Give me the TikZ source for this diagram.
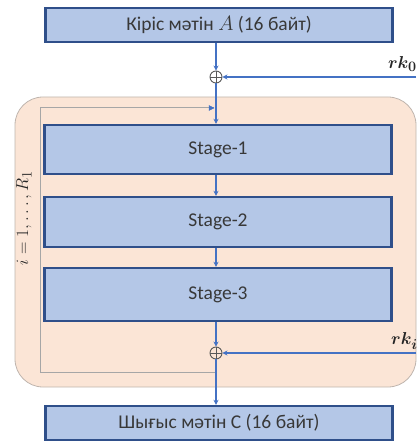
\documentclass[tikz,border=0pt]{standalone}
\usepackage{amsmath}
\usepackage{bm}
\usepackage{fontspec}
\setmainfont{Carlito}
\usetikzlibrary{arrows.meta}
\definecolor{boxfill}{HTML}{B4C7E7}
\definecolor{boxline}{HTML}{2F4F8A}
\definecolor{flow}{HTML}{4472C4}
\definecolor{roundbg}{HTML}{FBE5D6}
\definecolor{roundline}{HTML}{BFB5AE}
\definecolor{loopline}{HTML}{A6A6A6}
\definecolor{xorline}{HTML}{595959}
\tikzset{
  blockbox/.style={draw=boxline, line width=2.4pt, fill=boxfill, minimum width=347pt,
    inner sep=0pt, font=\fontsize{19.5}{22}\selectfont, text=black!78},
  xorop/.style={circle, draw=xorline, line width=0.9pt, minimum size=12pt, inner sep=0pt,
    path picture={\draw[xorline, line width=0.9pt]
      (path picture bounding box.north) -- (path picture bounding box.south)
      (path picture bounding box.west) -- (path picture bounding box.east);}},
  flowarrow/.style={draw=flow, line width=1.1pt, -{Stealth[length=5pt,width=5pt]}},
  keylabel/.style={font=\fontsize{19}{22}\selectfont, inner sep=0pt, text=black!85},
}
\begin{document}
\begin{tikzpicture}[x=1pt,y=-1pt]
  \useasboundingbox (0,0) rectangle (416,443);
  % shaded round region
  \path[fill=roundbg, draw=roundline, line width=0.8pt, rounded corners=28pt]
    (15,97) rectangle (416,387);
  % blocks
  \node[blockbox, minimum height=34pt] (in) at (219,25) {Кіріс мәтін $A$ (16 байт)};
  \node[blockbox, minimum height=49pt] (s1) at (218,149.5) {Stage-1};
  \node[blockbox, minimum height=50pt] (s2) at (218,222) {Stage-2};
  \node[blockbox, minimum height=53pt] (s3) at (218,294.5) {Stage-3};
  \node[blockbox, minimum height=34pt] (out) at (219,423) {Шығыс мәтін C (16 байт)};
  % xor operations
  \node[xorop] (x1) at (216,77) {};
  \node[xorop] (x2) at (216,353) {};
  % key inputs
  \coordinate (k0) at (416,77);
  \coordinate (ki) at (416,353);
  \node[keylabel, anchor=east] (rk0) at (417,64) {$\bm{rk_0}$};
  \node[keylabel, anchor=west] (rki) at (391,341) {$\bm{rk_i}$};
  % round loop
  \coordinate (lb) at (216,372);
  \coordinate (lt) at (214,108);
  \draw[loopline, line width=1pt] (lb) -- (40,372) -- (40,108) -- (lt);
  \draw[draw=flow, fill=flow] (lt) ++(-5,-2.5) -- (lt) -- ++(-5,2.5) -- cycle;
  \node[keylabel, rotate=90] (idx) at (24,218) {$i = 1, \ldots, R_1$};
  % data flow
  \draw[flowarrow] (in.south -| x1) -- (x1.north);
  \draw[flowarrow] (k0) -- (x1.east);
  \draw[flowarrow] (x1.south) -- (s1.north -| x1);
  \draw[flowarrow] (s1.south -| x1) -- (s2.north -| x1);
  \draw[flowarrow] (s2.south -| x1) -- (s3.north -| x1);
  \draw[flowarrow] (s3.south -| x2) -- (x2.north);
  \draw[flowarrow] (ki) -- (x2.east);
  \draw[flowarrow] (x2.south) -- (out.north -| x2);
\end{tikzpicture}
\end{document}
